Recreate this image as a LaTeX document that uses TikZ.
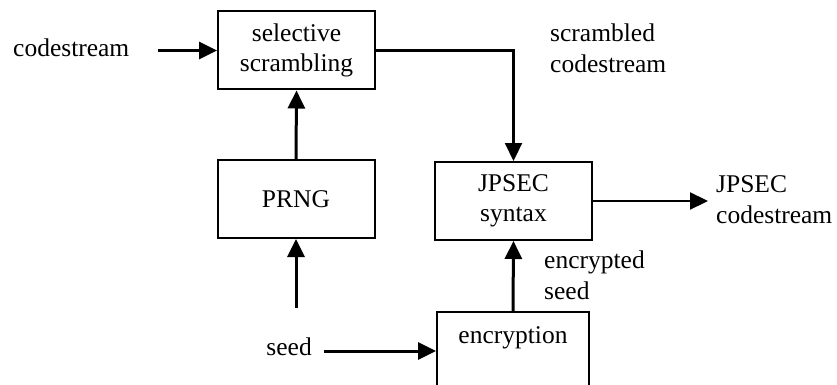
\documentclass[tikz,border=0pt]{standalone}
\usepackage{fontspec}
\setmainfont{Liberation Serif}
\usetikzlibrary{arrows.meta}
\begin{document}
\begin{tikzpicture}[x=1pt,y=-1pt,
  box/.style={draw,line width=2pt,minimum width=157pt,minimum height=78pt,inner sep=0pt,align=center,font=\fontsize{25.5}{30}\selectfont},
  lbl/.style={inner sep=0pt,align=left,font=\fontsize{25.5}{31}\selectfont},
  arr/.style={line width=3pt,-{Triangle[length=18pt,width=17pt]}}]
\useasboundingbox (0,0) rectangle (837,385);
\node[box] (sel) at (296.5,50.5) {selective\\scrambling};
\node[box] (prng) at (296,199) {PRNG};
\node[box] (jp) at (513.5,201) {JPSEC\\syntax};
\node[box,minimum width=152pt,anchor=north] (enc) at (513,311) {};
\node[lbl] (enct) at (513,338) {encryption};
\node[lbl,anchor=west] (cs) at (13,48) {codestream};
\node[lbl,anchor=west] (sc) at (550,48) {scrambled\\codestream};
\node[lbl,anchor=west] (jc) at (716,200) {JPSEC\\codestream};
\node[lbl,anchor=west] (es) at (544,275) {encrypted\\seed};
\node[lbl,anchor=east] (sd) at (312,347) {seed};
\coordinate (sp) at (296,308);
\coordinate (out) at (708,201);
\draw[arr,shorten <=28pt] (cs.east |- sel.west) -- (sel.west);
\draw[arr] (prng.north) -- (sel.south);
\draw[arr] (sp) -- (prng.south);
\draw[arr,line width=2.2pt] (sel.east) -| (jp.north);
\draw[arr,line width=2.2pt] (jp.east) -- (out);
\draw[arr] (enc.north) -- (jp.south);
\draw[arr,shorten <=12pt] (sd.east |- enc.west) -- (enc.west);
\end{tikzpicture}
\end{document}
